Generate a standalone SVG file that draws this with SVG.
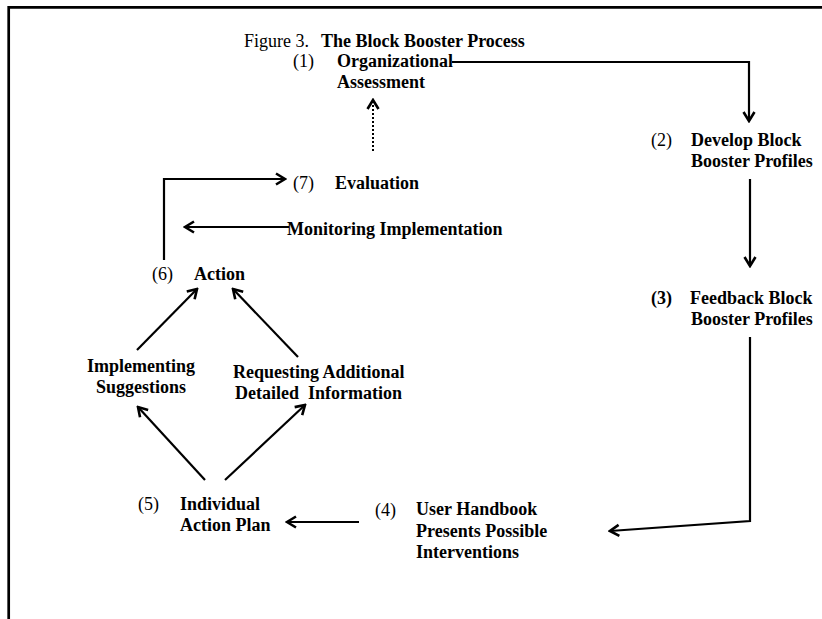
<svg xmlns="http://www.w3.org/2000/svg" width="822" height="619" viewBox="0 0 822 619">
<defs>
<style>
text{font-family:"Liberation Serif","Times New Roman",serif;font-size:18px;fill:#000}
.b{font-weight:bold}
.c{fill:none;stroke:#000;stroke-width:2.2}
.d{fill:none;stroke:#000;stroke-width:2;stroke-dasharray:2 2}
</style>
<marker id="ah" markerUnits="userSpaceOnUse" markerWidth="14" markerHeight="14" viewBox="0 0 14 14" refX="12" refY="7" orient="auto">
<path d="M3,1.5 L12,7 L3,12.5" fill="none" stroke="#000" stroke-width="2.6"/>
</marker>
</defs>
<rect width="822" height="619" fill="#fff"/>
<path d="M8.7,619 V7.3 H822" fill="none" stroke="#000" stroke-width="2.7"/>
<g id="title"><text x="244" y="47">Figure 3.</text><text class="b" x="321" y="47">The Block Booster Process</text></g>
<g id="n1"><text x="293" y="67">(1)</text><text class="b" x="337" y="67">Organizational</text><text class="b" x="337" y="88">Assessment</text></g>
<g id="n2"><text x="651" y="146">(2)</text><text class="b" x="691" y="146">Develop Block</text><text class="b" x="691" y="167">Booster Profiles</text></g>
<g id="n3"><text class="b" x="651" y="304">(3)</text><text class="b" x="690" y="304">Feedback Block</text><text class="b" x="691" y="325">Booster Profiles</text></g>
<g id="n4"><text x="375" y="516">(4)</text><text class="b" x="416" y="515">User Handbook</text><text class="b" x="416" y="537">Presents Possible</text><text class="b" x="416" y="558">Interventions</text></g>
<g id="n5"><text x="138" y="510">(5)</text><text class="b" x="180" y="510">Individual</text><text class="b" x="180" y="531">Action Plan</text></g>
<g id="n6"><text x="152" y="280">(6)</text><text class="b" x="194" y="280">Action</text></g>
<g id="n7"><text x="293" y="189">(7)</text><text class="b" x="335" y="189">Evaluation</text></g>
<g id="monitoring"><text class="b" x="287" y="235">Monitoring Implementation</text></g>
<g id="implementing"><text class="b" x="141" y="372" text-anchor="middle">Implementing</text><text class="b" x="141" y="393" text-anchor="middle">Suggestions</text></g>
<g id="requesting"><text class="b" x="233" y="378">Requesting Additional</text><text class="b" x="235" y="399">Detailed&#160; Information</text></g>
<g id="connectors">
<path class="c" d="M452,62 H749 V121" marker-end="url(#ah)"/>
<path class="c" d="M750,179 V266" marker-end="url(#ah)"/>
<path class="c" d="M750,337 V521 L610,531" marker-end="url(#ah)"/>
<path class="c" d="M359,522 H287" marker-end="url(#ah)"/>
<path class="c" d="M205,480 L138,407" marker-end="url(#ah)"/>
<path class="c" d="M225,480 L305,405" marker-end="url(#ah)"/>
<path class="c" d="M137,350 L197,289" marker-end="url(#ah)"/>
<path class="c" d="M298,357 L233,289" marker-end="url(#ah)"/>
<path class="c" d="M164,260 V179 H285" marker-end="url(#ah)"/>
<path class="c" d="M289,227 H185" marker-end="url(#ah)"/>
<path class="d" d="M373,151 V100" marker-end="url(#ah)"/>
</g>
</svg>
